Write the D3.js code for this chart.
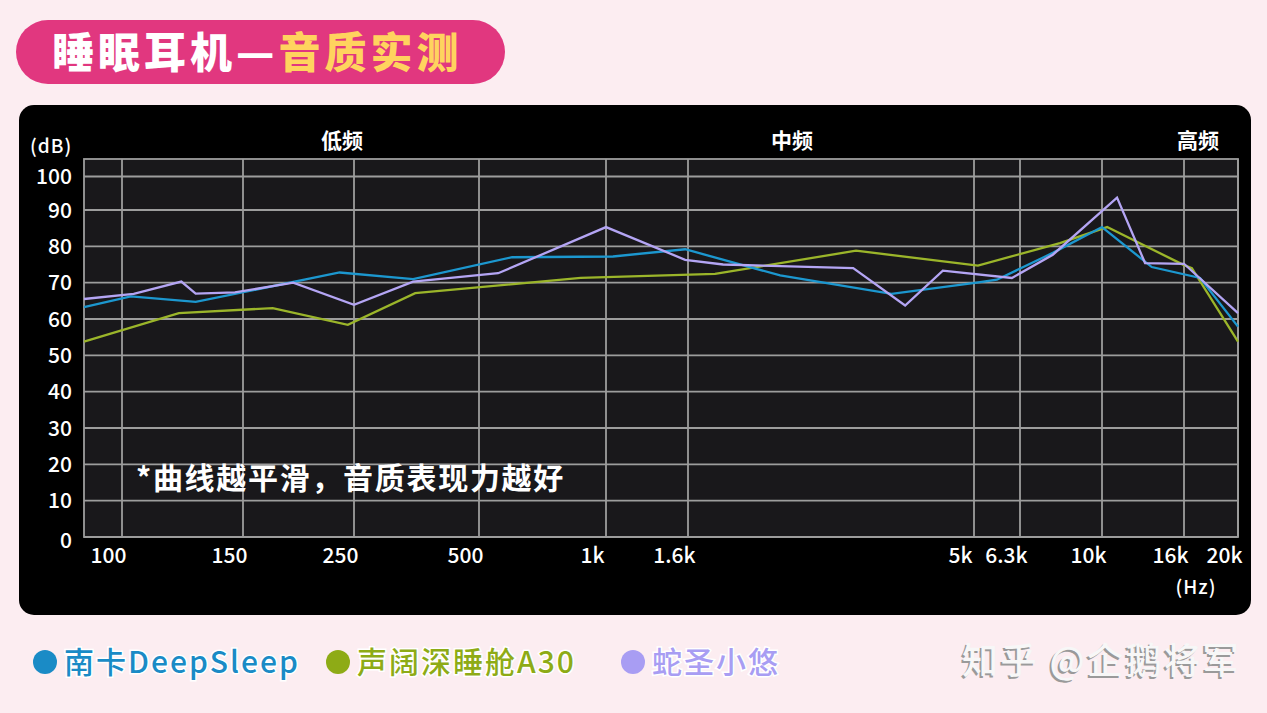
<!DOCTYPE html>
<html>
<head>
<meta charset="utf-8">
<script src="https://d3js.org/d3.v7.min.js"></script>
<style>
  body { margin: 0; background: #fcedf1; }
  svg { display: block; }
  text { font-family: "Noto Sans CJK SC", "Noto Sans", sans-serif; }
</style>
</head>
<body>
<div id="chart"></div>
<script>
// x axis ticks (Hz) and their labels
const tickHz = [100, 150, 250, 500, 1000, 1600, 5000, 6300, 10000, 16000, 20000];
const tickText = ["100", "150", "250", "500", "1k", "1.6k", "5k", "6.3k", "10k", "16k", "20k"];
const dbTicks = [0, 10, 20, 30, 40, 50, 60, 70, 80, 90, 100];

// series: frequency (Hz) / level (dB)
const nankaHz = [80, 103, 128, 234, 347, 599, 1041, 1574, 2310, 3600, 5070, 5610, 7580, 10000, 13300, 17100, 20000];
const nankaDb = [63.3, 66.2, 64.7, 72.8, 71.0, 77.0, 77.2, 79.2, 72.0, 66.9, 70.0, 70.8, 78.2, 85.3, 74.3, 71.3, 57.9];

const shengkuoHz = [80, 121, 172, 243, 351, 871, 1782, 3125, 5100, 7890, 10300, 15950, 16530, 20000];
const shengkuoDb = [53.8, 61.6, 63.0, 58.4, 67.1, 71.3, 72.4, 78.8, 74.7, 80.9, 85.3, 74.9, 74.0, 53.8];

const shexiaoHz = [80, 104, 122, 128, 146, 189, 250, 347, 555, 1000, 1574, 1840, 3090, 3800, 4416, 6048, 7580, 10900, 12800, 16000, 20000];
const shexiaoDb = [65.5, 66.9, 70.3, 67.0, 67.3, 70.0, 63.9, 70.3, 72.6, 85.3, 76.3, 75.0, 74.0, 63.7, 73.3, 71.3, 77.7, 93.7, 75.4, 75.2, 61.6];

const seriesNames = ["南卡DeepSleep", "声阔深睡舱A30", "蛇圣小悠"];
const bandNames = ["低频", "中频", "高频"];

// ---- layout ----
const W = 1267, H = 713;
const plot = { left: 84, top: 159, width: 1154, height: 378 };
// where each tick's gridline sits inside the plot (the picture's axis is hand-spaced)
const gridStops = [0, 38, 159, 270, 395, 522, 604, 890, 936, 1018, 1100, 1154];

const lineColors = ["#1c97cf", "#9bb52a", "#b4a5f4"];
const legendColors = ["#1a8bc6", "#8eab16", "#a89df3"];

const svg = d3.select("#chart").append("svg")
    .attr("width", W)
    .attr("height", H);

svg.append("rect").attr("width", W).attr("height", H).attr("fill", "#fcedf1");

// title pill
svg.append("rect")
    .attr("x", 16).attr("y", 20)
    .attr("width", 489).attr("height", 64)
    .attr("rx", 32)
    .attr("fill", "#e1377f");

const title = svg.append("text")
    .attr("x", 52).attr("y", 68)
    .style("font-size", "42px")
    .style("font-weight", 900)
    .style("letter-spacing", "4px");
title.append("tspan").attr("fill", "#ffffff").text("睡眠耳机—");
title.append("tspan").attr("fill", "#ffd35e").text("音质实测");

// black panel
svg.append("rect")
    .attr("x", 19).attr("y", 105)
    .attr("width", 1232).attr("height", 510)
    .attr("rx", 15)
    .attr("fill", "#000000");

const g = svg.append("g")
    .attr("transform", "translate(" + plot.left + "," + plot.top + ")");

var x = d3.scaleLinear()
    .domain([80].concat(tickHz).map(function (f) { return Math.log10(f); }))
    .range(gridStops);

var y = d3.scaleLinear()
    .domain([0, 90, 100, 104.8])
    .range([plot.height, plot.height - 327, plot.height - 360.5, 0]);

g.append("rect")
    .attr("width", plot.width).attr("height", plot.height)
    .attr("fill", "#19181b");

// grid
g.selectAll(".hgrid")
    .data(dbTicks)
    .enter()
    .append("line")
    .attr("x1", 0).attr("x2", plot.width)
    .attr("y1", function (d) { return y(d); })
    .attr("y2", function (d) { return y(d); })
    .attr("stroke", "#9d9d9d")
    .attr("stroke-width", 1.8);

g.selectAll(".vgrid")
    .data(tickHz)
    .enter()
    .append("line")
    .attr("x1", function (d) { return x(Math.log10(d)); })
    .attr("x2", function (d) { return x(Math.log10(d)); })
    .attr("y1", 0).attr("y2", plot.height)
    .attr("stroke", "#9d9d9d")
    .attr("stroke-width", 1.8);

g.append("rect")
    .attr("width", plot.width).attr("height", plot.height)
    .attr("fill", "none")
    .attr("stroke", "#9d9d9d")
    .attr("stroke-width", 1.8);

// axes (labels only, grid drawn above)
var xAxis = g.append("g")
    .attr("transform", "translate(0," + plot.height + ")")
    .call(d3.axisBottom(x)
        .tickValues(tickHz.map(function (f) { return Math.log10(f); }))
        .tickFormat(function (d, i) { return tickText[i]; })
        .tickSize(0)
        .tickPadding(0));
xAxis.select(".domain").remove();
xAxis.selectAll("text")
    .attr("fill", "#ffffff")
    .attr("dx", -14)
    .attr("dy", 0)
    .attr("y", 26)
    .style("font-size", "21px")
    .style("font-weight", 500);

var yAxis = g.append("g")
    .call(d3.axisLeft(y).tickValues(dbTicks).tickSize(0).tickPadding(12).tickFormat(d3.format("d")));
yAxis.select(".domain").remove();
yAxis.selectAll("text")
    .attr("fill", "#ffffff")
    .attr("dy", function (d) { return d === 0 ? "0.5em" : "0.34em"; })
    .style("font-size", "21px")
    .style("font-weight", 500);

// unit labels
svg.append("text")
    .attr("x", 30).attr("y", 153)
    .attr("fill", "#ffffff")
    .style("font-size", "19px")
    .style("font-weight", 500)
    .style("letter-spacing", "1px")
    .text("(dB)");

svg.append("text")
    .attr("x", 1196).attr("y", 594)
    .attr("text-anchor", "middle")
    .attr("fill", "#ffffff")
    .style("font-size", "19px")
    .style("font-weight", 500)
    .style("letter-spacing", "1px")
    .text("(Hz)");

// band headers
var bandX = [342, 792, 1198];
svg.selectAll(".band")
    .data(bandNames)
    .enter()
    .append("text")
    .attr("x", function (d, i) { return bandX[i]; })
    .attr("y", 148)
    .attr("text-anchor", "middle")
    .attr("fill", "#ffffff")
    .style("font-size", "21px")
    .style("font-weight", 700)
    .text(function (d) { return d; });

// series lines
var line = d3.line()
    .x(function (d) { return x(Math.log10(d[0])); })
    .y(function (d) { return y(d[1]); });

var allSeries = [
    d3.zip(nankaHz, nankaDb),
    d3.zip(shengkuoHz, shengkuoDb),
    d3.zip(shexiaoHz, shexiaoDb)
];

// draw order: green under, then blue, then purple
[1, 0, 2].forEach(function (i) {
    g.append("path")
        .datum(allSeries[i])
        .attr("d", line)
        .attr("fill", "none")
        .attr("stroke", lineColors[i])
        .attr("stroke-width", 2.3)
        .attr("stroke-linejoin", "miter");
});

// note
svg.append("text")
    .attr("x", 136).attr("y", 489)
    .attr("fill", "#ffffff")
    .style("font-size", "30px")
    .style("font-weight", 700)
    .style("letter-spacing", "1.7px")
    .text("*曲线越平滑，音质表现力越好");

// legend
var legendX = [45, 338, 633];
var legend = svg.selectAll(".legend")
    .data(seriesNames)
    .enter()
    .append("g")
    .attr("transform", function (d, i) { return "translate(" + legendX[i] + ",662)"; });

legend.append("circle")
    .attr("r", 12)
    .attr("fill", function (d, i) { return legendColors[i]; });

legend.append("text")
    .attr("x", 19)
    .attr("y", 11)
    .attr("fill", function (d, i) { return legendColors[i]; })
    .attr("stroke", "#ffffff")
    .attr("stroke-width", 3)
    .style("paint-order", "stroke")
    .style("font-size", "30px")
    .style("font-weight", 500)
    .style("letter-spacing", "2px")
    .text(function (d) { return d; });

// watermark
svg.append("text")
    .attr("x", 960).attr("y", 676)
    .attr("fill", "#9a9a9a")
    .style("font-size", "36px")
    .style("font-weight", 500)
    .style("letter-spacing", "2.5px")
    .text("知乎 @企鹅将军");
svg.append("text")
    .attr("x", 962).attr("y", 674)
    .attr("fill", "#f7f7f7")
    .style("font-size", "36px")
    .style("font-weight", 500)
    .style("letter-spacing", "2.5px")
    .text("知乎 @企鹅将军");
</script>
</body>
</html>
